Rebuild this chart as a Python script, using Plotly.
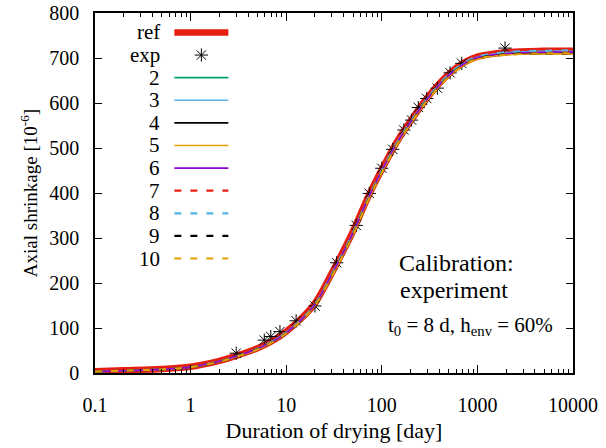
import plotly.graph_objects as go

# sample times [day] for the model curves
days = [0.1, 0.2, 0.5, 1, 2, 3, 5, 7, 10, 15, 20, 30, 50, 70, 100, 150, 200,
        300, 500, 700, 1000, 2000, 5000, 10000]

ref = [4, 6, 9, 14, 27, 38, 55, 70, 92, 125, 155, 222, 315, 386, 452, 520, 560,
       612, 664, 688, 703, 713, 716, 716]
m2 = [3, 5, 8, 13, 25, 36, 53, 68, 89, 121, 151, 217, 309, 380, 447, 515, 556,
      608, 660, 684, 700, 709, 711, 711]
m3 = [3, 5, 8, 13, 26, 37, 54, 69, 90, 123, 153, 220, 312, 383, 450, 518, 558,
      610, 662, 686, 702, 712, 715, 715]
m4 = [3, 5, 8, 13, 25, 36, 53, 67, 88, 120, 150, 216, 308, 379, 446, 514, 555,
      607, 659, 683, 699, 708, 710, 710]
m5 = [3, 5, 8, 13, 25, 36, 52, 67, 88, 120, 150, 215, 307, 378, 445, 513, 554,
      606, 658, 682, 698, 707, 709, 709]
m6 = [3, 5, 8, 13, 26, 37, 54, 68, 89, 122, 152, 219, 311, 382, 449, 517, 557,
      609, 661, 685, 701, 710, 713, 713]
m7 = [4, 6, 9, 14, 26, 37, 54, 69, 91, 124, 154, 221, 313, 384, 451, 519, 559,
      611, 663, 687, 702, 712, 715, 715]
m8 = [3, 5, 8, 13, 26, 37, 54, 69, 90, 123, 153, 220, 312, 383, 450, 518, 558,
      611, 663, 687, 703, 713, 716, 717]
m9 = [3, 5, 8, 13, 25, 36, 53, 67, 88, 120, 150, 216, 308, 379, 446, 514, 555,
      607, 659, 683, 699, 708, 710, 710]
m10 = [3, 5, 8, 13, 25, 36, 52, 67, 88, 120, 150, 215, 307, 378, 445, 513, 554,
       606, 658, 682, 698, 707, 710, 710]

# experimental data
exp_days = [3, 5.9, 6.9, 8.6, 12.7, 20, 33.7, 54, 74, 100, 130, 170, 205, 241,
            295, 381, 518, 686, 1945]
exp_vals = [44, 73, 81, 92, 116, 149, 245, 328, 399, 455, 497, 540, 562, 590,
            610, 633, 667, 688, 722]

model_names = ["2", "3", "4", "5", "6", "7", "8", "9", "10"]
model_series = [m2, m3, m4, m5, m6, m7, m8, m9, m10]
model_colors = ["#009e73", "#56b4e9", "#000000", "#e69f00", "#9400d3",
                "#e51e10", "#56b4e9", "#000000", "#e69f00"]
model_dash = ["solid"] * 5 + ["7px,9px"] * 4

x_ticks = [0.1, 1, 10, 100, 1000, 10000]
x_ticktext = ["0.1", "1", "10", "100", "1000", "10000"]

RED = "#e51e10"
FONT = "Liberation Serif"
STAR = dict(symbol="asterisk-open", size=11, color="black",
            line=dict(color="black", width=1))

fig = go.Figure()

fig.add_trace(go.Scatter(x=days, y=ref, mode="lines", line_shape="spline",
                         line=dict(color=RED, width=6.5)))
fig.add_trace(go.Scatter(x=exp_days, y=exp_vals, mode="markers", marker=STAR))
for vals, col, dash in zip(model_series, model_colors, model_dash):
    fig.add_trace(go.Scatter(x=days, y=vals, mode="lines", line_shape="spline",
                             line=dict(color=col, width=1.6 if dash == "solid" else 2.2,
                                       dash=dash)))

# hand-built gnuplot style key (label on the left, sample on the right)
key_x_text, key_x0, key_x1 = 0.1395, 0.166, 0.279
key_y0, key_dy = 0.946, 0.0628
labels = ["ref", "exp"] + model_names
for i, lab in enumerate(labels):
    yy = key_y0 - i * key_dy
    fig.add_annotation(x=key_x_text, y=yy, xref="paper", yref="paper", text=lab,
                       showarrow=False, xanchor="right", yanchor="middle",
                       font=dict(size=21, color="black", family=FONT))
    if lab == "ref":
        fig.add_shape(type="line", xref="paper", yref="paper", x0=key_x0, x1=key_x1,
                      y0=yy, y1=yy, line=dict(color=RED, width=6.5))
    elif lab == "exp":
        fig.add_trace(go.Scatter(x=[(key_x0 + key_x1) / 2], y=[yy], xaxis="x2", yaxis="y2",
                                 mode="markers", marker=STAR))
    else:
        k = model_names.index(lab)
        dash = model_dash[k]
        fig.add_shape(type="line", xref="paper", yref="paper", x0=key_x0, x1=key_x1,
                      y0=yy, y1=yy,
                      line=dict(color=model_colors[k], width=1.6 if dash == "solid" else 2.2,
                                dash=dash))

notes = [("Calibration:", 0.757, 0.306, 24),
         ("experiment", 0.751, 0.231, 24),
         ("t<sub>0</sub> = 8 d, h<sub>env</sub> = 60%", 0.785, 0.131, 21)]
for txt, nx, ny, sz in notes:
    fig.add_annotation(x=nx, y=ny, xref="paper", yref="paper", text=txt,
                       showarrow=False, xanchor="center", yanchor="middle",
                       font=dict(size=sz, color="black", family=FONT))

minor_vals = [m * 10 ** e for e in range(-1, 4) for m in range(2, 10)]

fig.update_layout(
    width=606, height=448,
    margin=dict(l=95, r=33, t=13, b=75),
    plot_bgcolor="white", paper_bgcolor="white",
    showlegend=False,
    font=dict(family=FONT, size=20, color="black"),
    xaxis=dict(
        type="log", range=[-1, 4], automargin=False,
        tickmode="array", tickvals=x_ticks, ticktext=x_ticktext,
        ticks="inside", ticklen=8, tickwidth=1, tickcolor="black",
        ticklabelstandoff=13,
        minor=dict(tickmode="array", tickvals=minor_vals, ticks="inside",
                   ticklen=4, tickwidth=1, tickcolor="black", showgrid=False),
        showline=True, linecolor="black", linewidth=1.5, mirror="ticks",
        showgrid=False, zeroline=False,
        title=dict(text="Duration of drying [day]", font=dict(size=22), standoff=8),
    ),
    yaxis=dict(
        range=[0, 800], dtick=100, automargin=False,
        ticks="inside", ticklen=7, tickwidth=1, tickcolor="black",
        ticklabelstandoff=10,
        showline=True, linecolor="black", linewidth=1.5, mirror="ticks",
        showgrid=False, zeroline=False,
        title=dict(text="Axial shrinkage [10<sup>-6</sup>]", font=dict(size=19), standoff=7),
    ),
    xaxis2=dict(overlaying="x", range=[0, 1], visible=False),
    yaxis2=dict(overlaying="y", range=[0, 1], visible=False),
)

fig.write_html("out.html", config={"displayModeBar": False},
               post_script="document.body.style.margin='0';")
